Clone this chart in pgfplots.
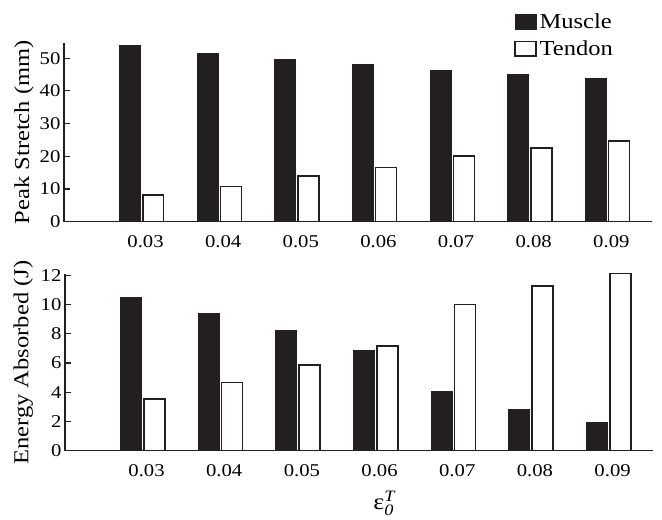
\documentclass[border=0pt]{standalone}
\usepackage{pgfplots}
\pgfplotsset{compat=1.18}
\usepackage{amsmath}
\usepackage{fontspec}
\setmainfont{Liberation Serif}[FakeStretch=1.15]
\definecolor{barblack}{HTML}{231F20}

\pgfplotsset{
  myaxis/.style={
    scale only axis,
    axis lines*=left,
    axis line style={-, line width=0.9pt, barblack},
    xmin=0, xmax=7.57,
    xtick={1.05,2.05,3.05,4.05,5.05,6.05,7.05},
    xticklabels={0.03,0.04,0.05,0.06,0.07,0.08,0.09},
    x tick style={draw=none},
    xticklabel style={font=\fontsize{13.5}{15}\selectfont, yshift=-2pt},
    y tick style={line width=0.9pt, barblack},
    tick align=inside,
    major tick length=4.5pt,
    yticklabel style={font=\fontsize{13.5}{15}\selectfont, inner sep=0pt, xshift=-2.5pt},
    /pgf/number format/assume math mode=true,
    ylabel style={font=\fontsize{16}{18}\selectfont},
    ybar, bar width=0.27,
    clip=false,
  },
  muscle/.style={fill=barblack, draw=barblack, line width=0.8pt, bar shift=-0.15},
  tendon/.style={fill=white, draw=barblack, line width=1.1pt, bar shift=0.15},
}

\begin{document}
\begin{tikzpicture}
\useasboundingbox (0,0) rectangle (496.5pt,-389.25pt);

\begin{axis}[myaxis,
  at={(48pt,-166.3pt)}, anchor=south west,
  width=440.8pt, height=134.25pt,
  ymin=0, ymax=54.7,
  ytick={0,10,20,30,40,50},
  ylabel={Peak Stretch (mm)},
  ylabel style={at={(axis description cs:-0.068,0.5)}, anchor=center},
  legend style={at={(axis description cs:0.766,1.18)}, anchor=north west,
    draw=none, fill=none, inner sep=0pt, row sep=3.5pt,
    font=\fontsize{16}{18}\selectfont, legend cell align=left},
  legend image code/.code={\draw[#1] (0pt,-5.35pt) rectangle (15.75pt,5.35pt);},
]
\addplot[muscle] coordinates {(1,53.7) (2,51.5) (3,49.7) (4,47.9) (5,46.2) (6,45.1) (7,43.7)};
\addlegendentry{Muscle}
\addplot[tendon] coordinates {(1,8.1) (2,10.7) (3,14.0) (4,16.6) (5,20.1) (6,22.5) (7,24.7)};
\addlegendentry{Tendon}
\end{axis}

\begin{axis}[myaxis,
  at={(48.75pt,-338.0pt)}, anchor=south west,
  width=441pt, height=132.15pt,
  ymin=0, ymax=12.05,
  ytick={0,2,4,6,8,10,12},
  ylabel={Energy Absorbed (J)},
  ylabel style={at={(axis description cs:-0.071,0.5)}, anchor=center},
  xlabel={ε$_{\text{\itshape 0}}^{\text{\itshape T}}$},
  xlabel style={at={(axis description cs:0.543,-0.335)}, anchor=base, inner sep=0pt, font=\fontsize{17}{19}\selectfont},
]
\addplot[muscle] coordinates {(1,10.48) (2,9.38) (3,8.2) (4,6.88) (5,4.03) (6,2.8) (7,1.94)};
\addplot[tendon] coordinates {(1,3.53) (2,4.65) (3,5.85) (4,7.15) (5,10.0) (6,11.27) (7,12.1)};
\end{axis}
\end{tikzpicture}
\end{document}
